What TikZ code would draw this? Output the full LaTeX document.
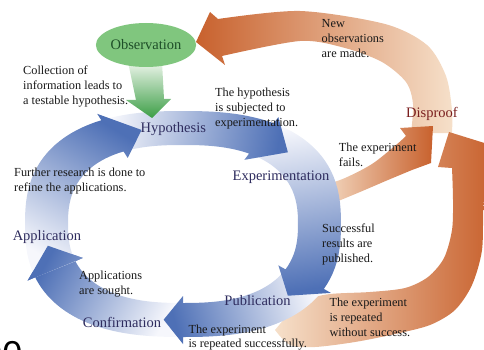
\documentclass[tikz,border=0pt]{standalone}
\usepackage{fontspec}
\setmainfont{Liberation Serif}
\newfontfamily\digitfont{Liberation Sans}
\usetikzlibrary{shapes.geometric}
\definecolor{bdark}{RGB}{78,112,182}
\definecolor{blight}{RGB}{246,247,252}
\definecolor{odark}{RGB}{200,97,45}
\definecolor{olight}{RGB}{246,224,202}
\definecolor{gfill}{RGB}{128,198,126}
\definecolor{gdark}{RGB}{60,158,70}
\definecolor{glight}{RGB}{236,245,234}
\definecolor{navy}{RGB}{46,44,94}
\definecolor{maroon}{RGB}{122,30,30}
\definecolor{dgreen}{RGB}{30,78,40}
\definecolor{txt}{RGB}{25,25,25}
\tikzset{
  ringseg/.style n args={3}{insert path={
    plot[domain=#1:#2,samples=30] ({ex(\x,158)},{ey(\x,113)})
    -- ({ex(#2,166)},{ey(#2,120)}) -- ({ex(#3,136.5)},{ey(#3,96)}) -- ({ex(#2,107)},{ey(#2,72)})
    -- plot[domain=#2:#1,samples=30] ({ex(\x,115)},{ey(\x,79)}) -- cycle}},
  blueseg/.style={top color=bdark, bottom color=blight, shading=axis},
  lbl/.style={font=\fontsize{14.5}{17}\selectfont, text=navy, anchor=base, inner sep=0pt},
  desc/.style={font=\fontsize{12.3}{15}\selectfont, align=left, anchor=north west, inner sep=0pt, text=txt},
}
\begin{document}
\begin{tikzpicture}[x=1pt,y=-1pt,
  declare function={ex(\tq,\rq)=183+\rq*cos(\tq)*pow(abs(cos(\tq))+0.0001,-0.2);
                     ey(\tq,\rq)=224+\rq*sin(\tq)*pow(abs(sin(\tq))+0.0001,-0.2);}]
\useasboundingbox (0,0) rectangle (484,350);
\clip (0,0) rectangle (484,350);

% orange: new observations (Disproof -> Observation)
\shade[left color=odark, right color=olight]
  plot[smooth] coordinates {(452,133) (452,110) (446,76) (427,45) (385,24) (300,11) (218,19)}
  -- (210,12) -- (196,42) -- (225,65)
  -- plot[smooth] coordinates {(222,56) (300,41) (345,48) (382,62) (406,82) (413,104) (411,133)}
  -- cycle;
% orange: repeated without success
\shade[left color=olight, right color=odark]
  plot[smooth] coordinates {(300,300) (330,294) (370,292) (405,288) (428,277) (444,258) (452,230) (453,200) (452,168)}
  -- (438,167) -- (449,132) -- (494,146)
  -- plot[smooth] coordinates {(494,170) (484,200) (482,250) (472,285) (455,310) (430,325) (395,334) (355,342) (315,347) (290,345) (275,330)}
  -- cycle;
% orange: the experiment fails
\shade[left color=olight, right color=odark]
  plot[smooth] coordinates {(322,186) (345,178) (372,164) (396,145) (406,136)}
  -- (400,128) -- (433,126) -- (431,163)
  -- plot[smooth] coordinates {(412,170) (388,180) (360,192) (333,203) (318,207)}
  -- cycle;

% blue ring
\shade[blueseg, shading angle=61, ringseg={90}{157}{171}];
\shade[blueseg, shading angle=106, ringseg={30}{90}{95}];
\shade[blueseg, shading angle=-171, ringseg={300}{390}{404}];
\shade[blueseg, shading angle=-99, ringseg={244}{300}{316}];
\shade[blueseg, shading angle=-31, ringseg={157}{244}{257}];
\begin{scope}
  \clip ({ex(157,166)},{ey(157,120)}) -- ({ex(171,136.5)},{ey(171,96)}) -- ({ex(157,107)},{ey(157,72)}) -- cycle;
  \shade[blueseg, shading angle=61, ringseg={90}{157}{171}];
\end{scope}

% green arrow and observation
\shade[top color=glight, bottom color=gdark]
  (128,62) -- (136,100) -- (126,100) -- (152,118) -- (171,99) -- (164,99) -- (162,62) -- cycle;
\node[ellipse, fill=gfill, minimum width=96pt, minimum height=44pt, inner sep=0pt,
      font=\fontsize{14.5}{17}\selectfont, text=dgreen] (obs) at (146,45) {Observation};

% labels
\node[lbl] (hyp) at (173.3,132.5) {Hypothesis};
\node[lbl] (exper) at (281,180) {Experimentation};
\node[lbl, text=maroon] (disp) at (432,117.3) {Disproof};
\node[lbl] (app) at (47,240.3) {Application};
\node[lbl] (pub) at (257.5,305.7) {Publication};
\node[lbl] (conf) at (122,327.7) {Confirmation};

% descriptions
\node[desc] (tcollect) at (23,65.4) {Collection of\\information leads to\\a testable hypothesis.};
\node[desc] (thyp) at (215,87.9) {The hypothesis\\is subjected to\\experimentation.};
\node[desc] (tnew) at (321.5,19.7) {New\\observations\\are made.};
\node[desc] (tfails) at (338.7,143.1) {The experiment\\fails.};
\node[desc] (tfurther) at (14,167.9) {Further research is done to\\refine the applications.};
\node[desc] (tsucc) at (322,223.7) {Successful\\results are\\published.};
\node[desc] (tsought) at (79,270.4) {Applications\\are sought.};
\node[desc] (twithout) at (329.3,298.1) {The experiment\\is repeated\\without success.};
\node[desc, font=\fontsize{12.3}{14}\selectfont] (tsuccessfully) at (188.3,324.7) {The experiment\\is repeated successfully.};

\node[font=\digitfont\fontsize{36}{36}\selectfont, anchor=base east, inner sep=0pt, text=black] (frag) at (22.5,366) {90};
\end{tikzpicture}
\end{document}
